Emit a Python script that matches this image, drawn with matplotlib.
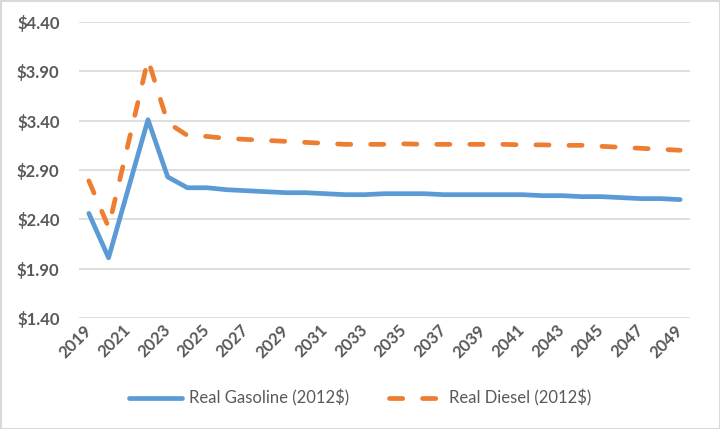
import matplotlib.pyplot as plt
from matplotlib.patches import Rectangle
from matplotlib.ticker import FuncFormatter

years = list(range(2019, 2050))
gasoline = [2.46, 2.01, 2.71, 3.41, 2.83, 2.72, 2.72, 2.70, 2.69, 2.68,
            2.67, 2.67, 2.66, 2.65, 2.65, 2.66, 2.66, 2.66, 2.65, 2.65,
            2.65, 2.65, 2.65, 2.64, 2.64, 2.63, 2.63, 2.62, 2.61, 2.61, 2.60]
diesel = [2.79, 2.32, 3.17, 4.02, 3.38, 3.25, 3.24, 3.22, 3.21, 3.20,
          3.19, 3.18, 3.17, 3.16, 3.16, 3.16, 3.165, 3.16, 3.16, 3.16,
          3.16, 3.16, 3.155, 3.155, 3.15, 3.15, 3.14, 3.13, 3.12, 3.11, 3.10]
y_ticks = [1.40, 1.90, 2.40, 2.90, 3.40, 3.90, 4.40]

plt.rcParams['font.family'] = ['Lato', 'DejaVu Sans']
text_color = '#595959'

fig = plt.figure(figsize=(7.2, 4.29), dpi=100)
ax = fig.add_axes([79 / 720, 1 - 318 / 429, 611 / 720, 296 / 429])

ax.plot(years, gasoline, color='#5B9BD5', linewidth=3.4, solid_capstyle='round',
        solid_joinstyle='round', label='Real Gasoline (2012$)')
ax.plot(years, diesel, color='#ED7D31', linewidth=3.4, dashes=(2.8, 4.2),
        dash_capstyle='round', dash_joinstyle='round', label='Real Diesel (2012$)')

ax.set_xlim(2018.5, 2049.5)
ax.set_ylim(1.40, 4.40)
ax.set_yticks(y_ticks)
ax.yaxis.set_major_formatter(FuncFormatter(lambda v, p: f'${v:.2f}'))
ax.set_xticks(years[::2])
ax.grid(True, axis='y', color='#D9D9D9', linewidth=1.2)
ax.set_axisbelow(True)
for s in ax.spines.values():
    s.set_visible(False)

ax.tick_params(axis='y', length=0, pad=14, labelsize=12, labelcolor=text_color)
ax.tick_params(axis='x', length=0, pad=7, labelsize=12, labelcolor=text_color)
for lab in ax.get_yticklabels():
    lab.set_fontweight('bold')
for lab in ax.get_xticklabels():
    lab.set_fontweight('bold')
    lab.set_rotation(45)
    lab.set_ha('right')
    lab.set_va('center')
    lab.set_rotation_mode('anchor')

leg = fig.legend(loc='center', bbox_to_anchor=(0.5, 1 - 398 / 429), ncol=2,
                 frameon=False, fontsize=12, handlelength=3.2, columnspacing=2.4,
                 handletextpad=0.4)
for t in leg.get_texts():
    t.set_color(text_color)

fig.patches.append(Rectangle((0.5 / 720, 0.5 / 429), 1 - 1 / 720, 1 - 1 / 429,
                             transform=fig.transFigure, fill=False,
                             edgecolor='#D9D9D9', linewidth=1.5))

fig.savefig('out.png', dpi=100)
